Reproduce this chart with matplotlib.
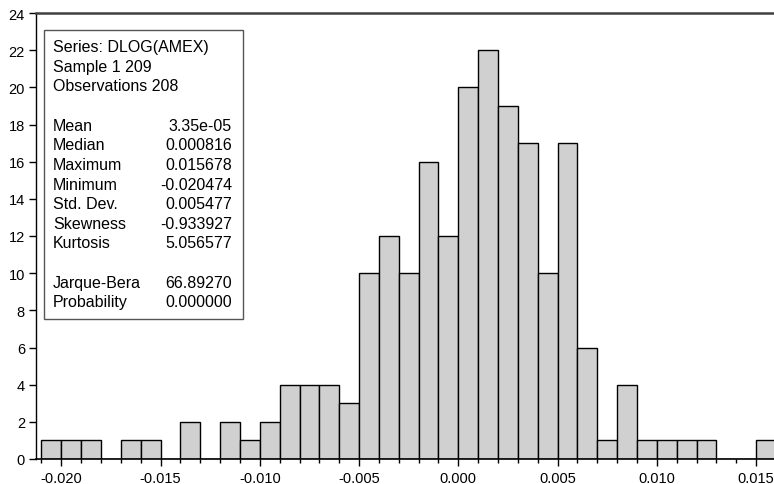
import matplotlib.pyplot as plt
import numpy as np
from matplotlib.ticker import MultipleLocator

plt.rcParams['font.family'] = ['Liberation Sans', 'DejaVu Sans']

# histogram of DLOG(AMEX): bin edges every 0.001 starting at -0.021
bin_start = -0.021
bin_width = 0.001
counts = [1, 1, 1, 0, 1, 1, 0, 2, 0, 2, 1, 2, 4, 4, 4, 3,
          10, 12, 10, 16, 12, 20, 22, 19, 17, 10, 17, 6,
          1, 4, 1, 1, 1, 1, 0, 0, 1]

stat_header = ["Series: DLOG(AMEX)", "Sample 1 209", "Observations 208"]
stat_names = ["Mean", "Median", "Maximum", "Minimum", "Std. Dev.",
              "Skewness", "Kurtosis"]
stat_values = ["3.35e-05", "0.000816", "0.015678", "-0.020474",
               "0.005477", "-0.933927", "5.056577"]
test_names = ["Jarque-Bera", "Probability"]
test_values = ["66.89270", "0.000000"]

W, H = 774, 485
fig = plt.figure(figsize=(W / 100, H / 100), dpi=100)
ax = fig.add_axes([36 / W, 1 - 460 / H, 1 - 36 / W, (460 - 14) / H])

lefts = bin_start + bin_width * np.arange(len(counts))
ax.bar(lefts, counts, width=bin_width, align='edge',
       color='#d0d0d0', edgecolor='black', linewidth=1.0, zorder=2)

ax.set_xlim(-0.021275, 0.015904)
ax.set_ylim(0, 24)
ax.xaxis.set_major_locator(MultipleLocator(0.005))
ax.xaxis.set_minor_locator(MultipleLocator(0.001))
ax.yaxis.set_major_locator(MultipleLocator(2))
ax.xaxis.set_major_formatter(plt.FuncFormatter(lambda v, p: f"{v:.3f}".replace("-0.000", "0.000")))

ax.tick_params(axis='x', which='major', length=5, width=1, labelsize=10.5, pad=4)
ax.tick_params(axis='x', which='minor', length=3, width=1)
ax.tick_params(axis='y', length=5, width=1, labelsize=10.5, pad=3)

ax.spines['right'].set_visible(False)
ax.spines['top'].set_color('#404040')
ax.spines['top'].set_linewidth(1.8)
ax.spines['left'].set_linewidth(1.0)
ax.spines['bottom'].set_linewidth(1.2)

# statistics box
box = plt.Rectangle((44 / W, 1 - 320 / H), (243 - 44) / W, (320 - 31) / H,
                    transform=fig.transFigure, facecolor='white',
                    edgecolor='#555555', linewidth=1.0, zorder=5)
fig.patches.append(box)

row0, step = 47.5, 19.65
x_lab, x_val = 53, 232


def put(row, label, value=None):
    y = 1 - (row0 + row * step) / H
    fig.text(x_lab / W, y, label, fontsize=11.5, va='center', ha='left', zorder=6)
    if value is not None:
        fig.text(x_val / W, y, value, fontsize=11.5, va='center', ha='right', zorder=6)


for i, s in enumerate(stat_header):
    put(i, s)
for i, (n, v) in enumerate(zip(stat_names, stat_values)):
    put(4 + i, n, v)
for i, (n, v) in enumerate(zip(test_names, test_values)):
    put(12 + i, n, v)

fig.savefig("out.png", dpi=100)
